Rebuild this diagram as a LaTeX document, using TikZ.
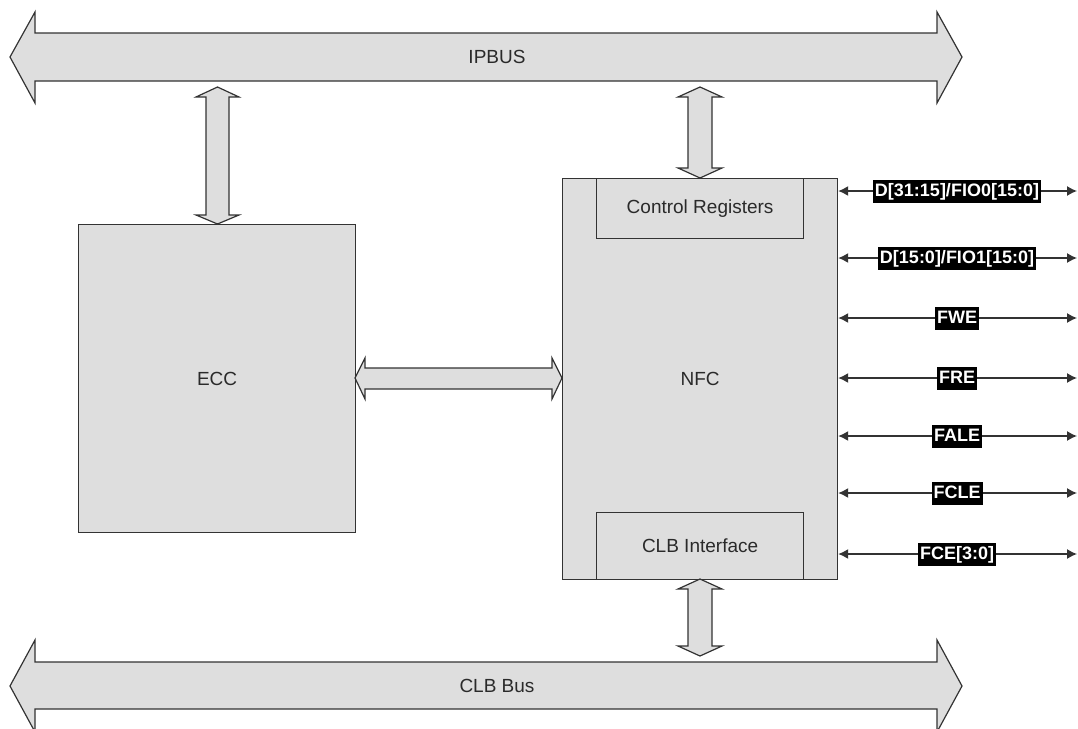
\documentclass[tikz,border=0pt]{standalone}
\usepackage{fontspec}
\setmainfont{Liberation Sans}
\usetikzlibrary{arrows.meta}
\definecolor{blockfill}{HTML}{DEDEDE}
\definecolor{edgecol}{HTML}{333333}
\definecolor{txtcol}{HTML}{2A2A2A}
\begin{document}
\begin{tikzpicture}[x=1pt,y=-1pt,
  box/.style={draw=edgecol, fill=blockfill, line width=1.2pt, inner sep=0pt,
    text=txtcol, font=\fontsize{19}{21}\selectfont},
  blockarrow/.style={draw=edgecol, fill=blockfill, line width=1.2pt, line join=miter},
  lbl/.style={text=txtcol, font=\fontsize{19}{21}\selectfont, inner sep=0pt},
  sig/.style={fill=black, text=white, font=\bfseries\fontsize{18}{20}\selectfont,
    inner xsep=2pt, inner ysep=3pt, text height=13.5pt, text depth=3.5pt},
  sigline/.style={draw=edgecol, line width=1.3pt,
    {Latex[length=10pt,width=10pt]}-{Latex[length=10pt,width=10pt]}}
]
\useasboundingbox (0,0) rectangle (1078,728);

% buses
\path[blockarrow] (10,57) -- (35,12) -- (35,33) -- (937,33) -- (937,12) -- (962,57)
  -- (937,103) -- (937,81) -- (35,81) -- (35,103) -- cycle;
\node[lbl] (ipbus) at (497,57) {IPBUS};

\path[blockarrow] (10,686) -- (35,640) -- (35,662) -- (937,662) -- (937,640) -- (962,686)
  -- (937,732) -- (937,709) -- (35,709) -- (35,732) -- cycle;
\node[lbl] (clbbus) at (497,686) {CLB Bus};

% blocks
\node[box, minimum width=277pt, minimum height=308pt, anchor=north west] (ecc) at (78,224) {ECC};
\node[box, minimum width=275pt, minimum height=401pt, anchor=north west] (nfc) at (562,178) {NFC};
\node[box, minimum width=207pt, minimum height=60pt, anchor=north west] (ctrl) at (596,178) {Control Registers};
\node[box, minimum width=207pt, minimum height=67pt, anchor=north west] (clbif) at (596,512) {CLB Interface};

% vertical block arrows
\path[blockarrow] (217.5,87) -- (239,97) -- (229,97) -- (229,215) -- (239,215) -- (217.5,224)
  -- (196,215) -- (206,215) -- (206,97) -- (196,97) -- cycle;
\path[blockarrow] (700,87) -- (722,97) -- (712,97) -- (712,168) -- (722,168) -- (700,178)
  -- (678,168) -- (688,168) -- (688,97) -- (678,97) -- cycle;
\path[blockarrow] (700,579) -- (722,589) -- (712,589) -- (712,646) -- (722,646) -- (700,656)
  -- (678,646) -- (688,646) -- (688,589) -- (678,589) -- cycle;

% horizontal block arrow ECC <-> NFC
\path[blockarrow] (355,378) -- (365,358) -- (365,368) -- (552,368) -- (552,358) -- (562,378)
  -- (552,399) -- (552,389) -- (365,389) -- (365,399) -- cycle;

% signals
\foreach \y/\name/\txt in {191/s1/{D[31:15]/FIO0[15:0]}, 258/s2/{D[15:0]/FIO1[15:0]},
    318/s3/FWE, 378/s4/FRE, 436/s5/FALE, 493/s6/FCLE, 554/s7/{FCE[3:0]}}{
  \coordinate (\name end) at (1077,\y);
  \draw[sigline] (nfc.east |- \name end) -- (\name end);
  \node[sig] (\name) at (957,\y) {\txt};
}
\end{tikzpicture}
\end{document}
